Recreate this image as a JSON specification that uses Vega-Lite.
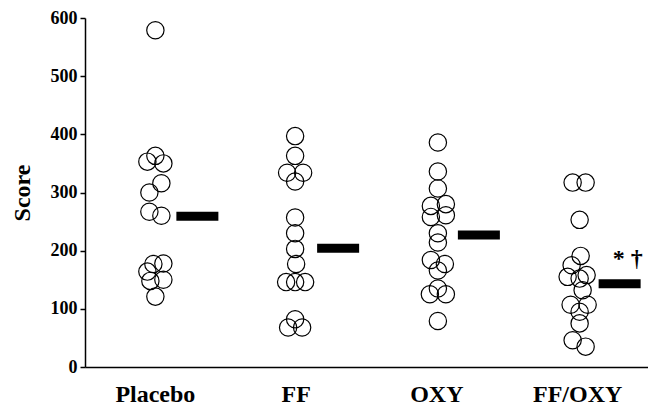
{
  "$schema": "https://vega.github.io/schema/vega-lite/v6.json",
  "autosize": "none",
  "padding": {"left": 85, "top": 18, "right": 0, "bottom": 41},
  "width": 563,
  "height": 349,
  "background": "white",
  "config": {
    "view": {"stroke": null},
    "font": "Liberation Serif",
    "axis": {
      "labelFont": "Liberation Serif",
      "labelFontWeight": "bold",
      "titleFont": "Liberation Serif",
      "titleFontWeight": "bold",
      "labelColor": "black",
      "titleColor": "black",
      "domainColor": "black",
      "tickColor": "black",
      "grid": false
    }
  },
  "datasets": {
    "points": [
      {"group": "Placebo", "score": 579, "jitter": 0},
      {"group": "Placebo", "score": 363, "jitter": 0},
      {"group": "Placebo", "score": 353, "jitter": -8},
      {"group": "Placebo", "score": 350, "jitter": 8},
      {"group": "Placebo", "score": 316, "jitter": 6},
      {"group": "Placebo", "score": 300, "jitter": -6},
      {"group": "Placebo", "score": 267, "jitter": -6},
      {"group": "Placebo", "score": 260, "jitter": 6},
      {"group": "Placebo", "score": 178, "jitter": 8},
      {"group": "Placebo", "score": 177, "jitter": -2},
      {"group": "Placebo", "score": 164, "jitter": -8},
      {"group": "Placebo", "score": 150, "jitter": 8},
      {"group": "Placebo", "score": 148, "jitter": -5},
      {"group": "Placebo", "score": 121, "jitter": 0},
      {"group": "FF", "score": 397, "jitter": -1},
      {"group": "FF", "score": 363, "jitter": -1},
      {"group": "FF", "score": 334, "jitter": -9},
      {"group": "FF", "score": 334, "jitter": 7},
      {"group": "FF", "score": 319, "jitter": -1},
      {"group": "FF", "score": 257, "jitter": -1},
      {"group": "FF", "score": 230, "jitter": -1},
      {"group": "FF", "score": 203, "jitter": -1},
      {"group": "FF", "score": 177, "jitter": 0},
      {"group": "FF", "score": 146, "jitter": -10},
      {"group": "FF", "score": 146, "jitter": -1},
      {"group": "FF", "score": 146, "jitter": 9},
      {"group": "FF", "score": 82, "jitter": -1},
      {"group": "FF", "score": 68, "jitter": -8},
      {"group": "FF", "score": 68, "jitter": 6},
      {"group": "OXY", "score": 386, "jitter": 1},
      {"group": "OXY", "score": 336, "jitter": 1},
      {"group": "OXY", "score": 307, "jitter": 1},
      {"group": "OXY", "score": 280, "jitter": 9},
      {"group": "OXY", "score": 277, "jitter": -6},
      {"group": "OXY", "score": 261, "jitter": 9},
      {"group": "OXY", "score": 258, "jitter": -6},
      {"group": "OXY", "score": 230, "jitter": 1},
      {"group": "OXY", "score": 214, "jitter": 1},
      {"group": "OXY", "score": 184, "jitter": -6},
      {"group": "OXY", "score": 177, "jitter": 8},
      {"group": "OXY", "score": 166, "jitter": 1},
      {"group": "OXY", "score": 135, "jitter": 1},
      {"group": "OXY", "score": 125, "jitter": -7},
      {"group": "OXY", "score": 125, "jitter": 9},
      {"group": "OXY", "score": 79, "jitter": 1},
      {"group": "FF/OXY", "score": 317, "jitter": -5},
      {"group": "FF/OXY", "score": 317, "jitter": 8},
      {"group": "FF/OXY", "score": 253, "jitter": 2},
      {"group": "FF/OXY", "score": 191, "jitter": 3},
      {"group": "FF/OXY", "score": 175, "jitter": -6},
      {"group": "FF/OXY", "score": 158, "jitter": 9},
      {"group": "FF/OXY", "score": 155, "jitter": -10},
      {"group": "FF/OXY", "score": 152, "jitter": 2},
      {"group": "FF/OXY", "score": 132, "jitter": 5},
      {"group": "FF/OXY", "score": 107, "jitter": 10},
      {"group": "FF/OXY", "score": 107, "jitter": -7},
      {"group": "FF/OXY", "score": 95, "jitter": 2},
      {"group": "FF/OXY", "score": 75, "jitter": 2},
      {"group": "FF/OXY", "score": 46, "jitter": -5},
      {"group": "FF/OXY", "score": 35, "jitter": 8}
    ],
    "medians": [
      {"group": "Placebo", "score": 259},
      {"group": "FF", "score": 204},
      {"group": "OXY", "score": 227},
      {"group": "FF/OXY", "score": 143}
    ],
    "notes": [
      {"group": "FF/OXY", "score": 186, "label": "* †"}
    ]
  },
  "encoding": {
    "x": {
      "field": "group",
      "type": "nominal",
      "sort": ["Placebo", "FF", "OXY", "FF/OXY"],
      "scale": {"paddingInner": 0, "paddingOuter": 0},
      "axis": {
        "title": null,
        "ticks": false,
        "labelAngle": 0,
        "labelFontSize": 24,
        "labelPadding": 15,
        "domainWidth": 1.5
      }
    },
    "y": {
      "field": "score",
      "type": "quantitative",
      "scale": {"domain": [0, 600], "nice": false, "zero": true},
      "axis": {
        "title": "Score",
        "titleFontSize": 24,
        "titlePadding": 16,
        "values": [0, 100, 200, 300, 400, 500, 600],
        "labelFontSize": 18,
        "tickSize": 5,
        "tickWidth": 1.5,
        "domainWidth": 1.5,
        "labelPadding": 3
      }
    }
  },
  "layer": [
    {
      "data": {"name": "points"},
      "mark": {"type": "point", "shape": "circle", "filled": false, "stroke": "black", "strokeWidth": 1.2, "size": 300, "opacity": 1},
      "encoding": {
        "xOffset": {
          "field": "jitter",
          "type": "quantitative",
          "scale": {"domain": [-70.375, 70.375], "range": [0, 140.75]}
        }
      }
    },
    {
      "data": {"name": "medians"},
      "mark": {"type": "tick", "color": "black", "size": 42, "thickness": 9, "xOffset": 42, "opacity": 1, "orient": "horizontal"}
    },
    {
      "data": {"name": "notes"},
      "mark": {"type": "text", "font": "Liberation Serif", "fontWeight": "bold", "fontSize": 24, "xOffset": 50, "color": "black", "align": "center", "baseline": "middle"},
      "encoding": {"text": {"field": "label"}}
    }
  ]
}
